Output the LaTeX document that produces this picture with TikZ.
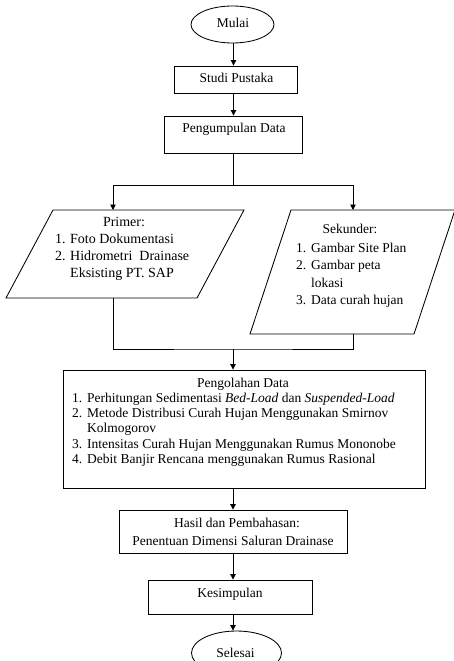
\documentclass[tikz,border=0pt]{standalone}
\usepackage{fontspec}
\setmainfont{Liberation Serif}
\usetikzlibrary{shapes.geometric,arrows.meta}
\begin{document}
\begin{tikzpicture}[x=1pt,y=-1pt,
  every node/.style={font=\fontsize{13.5}{15.4}\selectfont, inner sep=0pt},
  bigtxt/.style={font=\fontsize{14}{17}\selectfont},
  sektxt/.style={font=\fontsize{13.5}{17.5}\selectfont},
  box/.style={draw, line width=0.85pt},
  link/.style={line width=0.85pt},
  arr/.style={link,-{Triangle[length=5.5pt,width=5.5pt]}}]
\useasboundingbox (0,0) rectangle (453,661);
\newcommand{\itm}[1]{\makebox[15pt][l]{#1}}
% start
\node[box, ellipse, minimum width=83pt, minimum height=37pt] (mulai) at (232.5,24.5) {};
\node[anchor=base] (mulaitxt) at (233,27.4) {Mulai};
\node[box, minimum width=123pt, minimum height=27pt] (studi) at (235.5,79.5) {};
\node[anchor=base] (studitxt) at (236.5,82.7) {Studi Pustaka};
\node[box, minimum width=138pt, minimum height=37pt] (kumpul) at (233,134.5) {};
\node[anchor=base] (kumpultxt) at (234,132.4) {Pengumpulan Data};
\coordinate (ax) at (233.5,0);
\draw[arr] (ax |- mulai.south) -- (ax |- studi.north);
\draw[arr] (ax |- studi.south) -- (ax |- kumpul.north);
% split
\coordinate (split) at (233,185);
\coordinate (pA) at (53,210);
\coordinate (pB) at (244,210);
\coordinate (pC) at (197,298);
\coordinate (pD) at (6,298);
\coordinate (sA) at (291,210);
\coordinate (sB) at (455,210);
\coordinate (sC) at (414,334);
\coordinate (sD) at (250,334);
\coordinate (ptop) at (113,210);
\coordinate (stop) at (353,210);
\draw[link] (split |- kumpul.south) -- (split);
\draw[arr] (split) -| (ptop);
\draw[arr] (split) -| (stop);
% primer
\draw[box] (pA) -- (pB) -- (pC) -- (pD) -- cycle;
\node[bigtxt, anchor=base] (primtitle) at (124,226) {Primer:};
\node[bigtxt, anchor=north west, align=left] (primlist) at (55,233.4)
  {\itm{1.}Foto Dokumentasi\\
   \itm{2.}Hidrometri\ \ Drainase\\
   \hspace*{15pt}Eksisting PT. SAP};
% sekunder
\draw[box] (sA) -- (sB) -- (sC) -- (sD) -- cycle;
\node[anchor=base] (sektitle) at (350,233.7) {Sekunder:};
\node[sektxt, anchor=north west, align=left] (seklist) at (296,242.5)
  {\itm{1.}Gambar Site Plan\\
   \itm{2.}Gambar peta\\
   \hspace*{15pt}lokasi\\
   \itm{3.}Data curah hujan};
% join
\coordinate (pbot) at (113,298);
\coordinate (sbot) at (353,334);
\coordinate (join) at (233,349);
\draw[link] (pbot) |- (join) -| (sbot);
% pengolahan
\node[box, minimum width=362pt, minimum height=118pt] (olah) at (244,429) {};
\draw[arr] (join) -- (join |- olah.north);
\node[anchor=base] (olahtitle) at (243,387.7) {Pengolahan Data};
\node[anchor=north west, align=left] (olahlist) at (72,392.5)
  {\itm{1.}Perhitungan Sedimentasi \textit{Bed-Load} dan \textit{Suspended-Load}\\
   \itm{2.}Metode Distribusi Curah Hujan Menggunakan Smirnov\\
   \hspace*{15pt}Kolmogorov\\
   \itm{3.}Intensitas Curah Hujan Menggunakan Rumus Mononobe\\
   \itm{4.}Debit Banjir Rencana menggunakan Rumus Rasional};
% hasil
\node[box, minimum width=228pt, minimum height=43pt] (hasil) at (233,531.5) {};
\node[align=center, anchor=north] (hasiltxt) at (233,517.5)
  {\hspace*{8pt}Hasil dan Pembahasan:\\[2.6pt] Penentuan Dimensi Saluran Drainase};
\draw[arr] (join |- olah.south) -- (join |- hasil.north);
% kesimpulan
\node[box, minimum width=164pt, minimum height=34pt] (kesim) at (230,597) {};
\node[anchor=base] (kesimtxt) at (230,597.7) {Kesimpulan};
\draw[arr] (join |- hasil.south) -- (join |- kesim.north);
% selesai
\node[box, ellipse, minimum width=90pt, minimum height=44pt] (selesai) at (236.5,653) {};
\node[anchor=base] (selesaitxt) at (235.5,657.5) {Selesai};
\draw[arr] (join |- kesim.south) -- (join |- selesai.north);
\end{tikzpicture}
\end{document}
